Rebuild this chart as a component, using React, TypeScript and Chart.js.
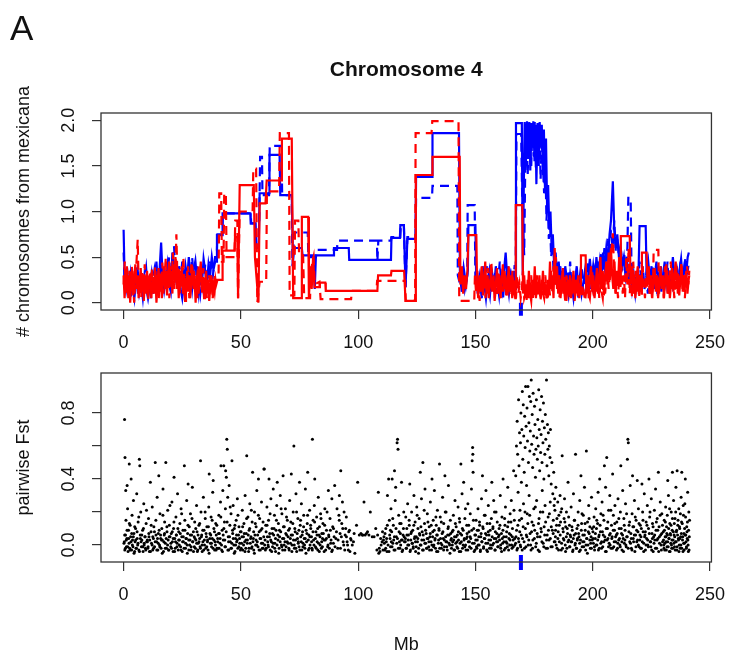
import { useEffect, useRef } from "react";
import { Chart, registerables } from "chart.js";
Chart.register(...registerables);

type Pt = [number, number];

const FONT = "'Liberation Sans', Arial, Helvetica, sans-serif";
const TITLE = "Chromosome 4";
const PANEL_LETTER = "A";
const TOP_Y_TITLE = "# chromosomes from mexicana";
const BOTTOM_Y_TITLE = "pairwise Fst";
const X_TITLE = "Mb";
const X_TICKS = [0, 50, 100, 150, 200, 250];
const TOP_Y_TICKS = [0, 0.5, 1, 1.5, 2];
const TOP_Y_LABELS = ["0.0", "0.5", "1.0", "1.5", "2.0"];
const BOTTOM_Y_TICKS = [0, 0.2, 0.4, 0.6, 0.8];
const BOTTOM_Y_LABELS = ["0.0", "", "0.4", "", "0.8"];
const GENE_MB = 169.4;
const TOP_GENE_SPAN = [0, -0.142];
const BOTTOM_GENE_SPAN = [-0.06, -0.152];

// top panel: mexicana ancestry (blue and red populations, solid and dashed)
const blueSolid: Pt[] = [
  [0,0.8],[0.4,0.3],[1.1,0.15],[1.8,0.28],[2.4,0.1],[3.1,0.32],[3.9,0.18],[4.6,0.05],[5.2,0.22],[6.0,0.36],[6.7,0.12],[7.5,0.25],[8.2,0.08],[8.9,0.3],[9.7,0.15],[10.4,0.05],[11.2,0.2],[11.9,0.32],[12.6,0.1],[13.3,0.26],[14.0,0.45],[14.6,0.18],[15.3,0.35],[16.0,0.66],[16.6,0.3],[17.3,0.14],[18.0,0.28],[18.7,0.42],[19.4,0.2],[20.1,0.12],[20.8,0.55],[21.5,0.3],[22.2,0.46],[22.9,0.2],[23.6,0.36],[24.3,0.15],[25.0,0.05],[25.7,0.22],[26.4,0.4],[27.1,0.26],[27.8,0.5],[28.5,0.3],[29.2,0.15],[29.9,0.36],[30.6,0.46],[31.3,0.25],[32.0,0.1],[32.7,0.32],[33.4,0.2],[34.1,0.48],[34.8,0.35],[35.5,0.2],[36.2,0.42],[36.9,0.3],[37.6,0.5],[38.3,0.36],[39.0,0.45],
  [39.6,0.45],[39.8,0.74],[42.0,0.74],[42.2,0.98],[54.0,0.98],[54.2,0.87],[56.3,0.87],[56.6,0.6],[57.6,0.6],[58.0,1.2],[62.0,1.2],[62.2,1.62],[66.5,1.62],[66.8,1.18],[71.7,1.18],[72.2,0.45],[72.8,0.6],[76.0,0.6],[76.3,0.52],[81.0,0.52],[81.5,0.15],[82.0,0.52],[89.5,0.52],[89.7,0.6],[96.0,0.6],[96.2,0.47],[114.0,0.47],[114.2,0.71],[117.8,0.71],[118.0,0.85],[119.5,0.85],[120.2,0.17],[121.0,0.7],[124.5,0.7],[124.7,1.38],[131.5,1.38],[131.7,1.86],[143.0,1.86],[143.4,0.3],
  [144.2,0.12],[145.0,0.38],[146.0,0.2],[146.8,0.35],[147.0,0.85],[150.0,0.85],[150.3,0.3],[151.0,0.1],[151.7,0.28],[152.4,0.15],[153.1,0.4],[153.8,0.2],[154.5,0.05],[155.2,0.25],[155.9,0.35],[156.6,0.12],[157.3,0.3],[158.0,0.18],[158.7,0.4],[159.4,0.22],[160.1,0.08],[160.8,0.3],[161.5,0.15],[162.2,0.35],[162.9,0.55],[163.6,0.25],[164.3,0.1],[165.0,0.3],[165.7,0.2],[166.4,0.35],[167.0,0.15],
  [167.3,1.97],[169.8,1.97],[170.2,0.3],[170.6,1.2],[171.0,1.98],[171.5,1.5],[172.0,1.99],[172.5,1.6],[173.0,1.98],[173.4,1.45],[173.8,1.97],[174.3,1.7],[174.7,1.99],[175.2,1.55],[175.6,1.95],[176.0,1.3],[176.5,1.97],[177.0,1.5],[177.4,1.98],[177.9,1.7],[178.3,1.95],[178.8,1.4],[179.2,1.9],[179.7,1.2],[180.1,1.8],[180.6,1.0],[181.0,1.29],[181.5,0.8],[182.0,1.0],[182.5,0.6],[183.0,0.75],[183.6,0.4],[184.2,0.55],[184.8,0.3],
  [185.5,0.45],[186.2,0.2],[186.9,0.35],[187.6,0.12],[188.3,0.4],[189.0,0.25],[189.7,0.1],[190.4,0.3],[191.1,0.18],[191.8,0.05],[192.5,0.25],[193.2,0.4],[193.9,0.15],[194.6,0.3],[195.3,0.1],[196.0,0.22],[196.7,0.35],[197.4,0.12],[198.1,0.3],[198.8,0.48],[199.5,0.25],[200.2,0.4],[200.9,0.2],[201.6,0.5],[202.3,0.3],[203.0,0.45],[203.7,0.25],[204.4,0.55],[205.1,0.4],[205.8,0.6],[206.5,0.45],[207.2,0.75],[207.8,0.9],[208.6,1.33],[209.2,0.8],[209.8,0.6],[210.5,0.75],[211.2,0.5],[211.9,0.62],[212.6,0.4],[213.3,0.5],[214.0,0.3],[214.7,0.45],[215.4,0.2],[216.1,0.35],[216.8,0.15],[217.5,0.3],[218.2,0.1],[218.9,0.25],[219.6,0.4],[220.0,0.84],[222.6,0.84],[223.0,0.3],[223.7,0.45],[224.4,0.25],[225.1,0.4],[225.8,0.15],[226.5,0.3],[227.2,0.45],[227.9,0.2],[228.6,0.35],[229.3,0.12],[230.0,0.3],[230.7,0.45],[231.4,0.2],[232.1,0.35],[232.8,0.1],[233.5,0.3],[234.2,0.5],[234.9,0.25],[235.6,0.4],[236.3,0.15],[237.0,0.35],[237.7,0.48],[238.4,0.25],[239.1,0.4],[239.8,0.3],[240.5,0.5],[241.0,0.55]
];

const blueDashed: Pt[] = [
  [0,0.55],[0.5,0.2],[1.2,0.35],[1.9,0.1],[2.6,0.25],[3.3,0.05],[4.0,0.3],[4.7,0.15],[5.4,0.4],[6.1,0.1],[6.8,0.3],[7.5,0.2],[8.2,0.05],[8.9,0.25],[9.6,0.38],[10.3,0.12],[11.0,0.3],[11.7,0.05],[12.4,0.22],[13.1,0.35],[13.8,0.15],[14.5,0.3],[15.2,0.1],[15.9,0.45],[16.6,0.25],[17.3,0.4],[18.0,0.15],[18.7,0.3],[19.4,0.5],[20.1,0.2],[20.8,0.35],[21.5,0.62],[22.2,0.3],[22.9,0.15],[23.6,0.4],[24.3,0.25],[25.0,0.45],[25.7,0.2],[26.4,0.3],[27.1,0.12],[27.8,0.35],[28.5,0.2],[29.2,0.5],[29.9,0.3],[30.6,0.15],[31.3,0.4],[32.0,0.25],[32.7,0.1],[33.4,0.3],[34.1,0.2],[34.8,0.42],[35.5,0.15],[36.2,0.3],[36.9,0.45],[37.6,0.2],[38.3,0.35],[39.0,0.5],
  [39.7,0.5],[40.0,0.75],[42.0,0.75],[42.3,0.98],[54.2,0.98],[54.4,0.87],[57.8,0.87],[58.2,1.6],[59.0,1.6],[59.2,1.18],[62.0,1.18],[62.3,1.72],[67.3,1.72],[67.6,1.18],[71.7,1.18],[72.0,0.4],[72.8,0.77],[78.5,0.77],[78.8,0.5],[82.0,0.5],[82.3,0.58],[91.0,0.58],[91.2,0.68],[108.0,0.68],[108.2,0.45],[108.6,0.68],[114.0,0.68],[114.2,0.72],[118.0,0.72],[118.2,0.85],[119.5,0.85],[120.2,0.17],[121.0,0.72],[124.5,0.72],[124.7,1.15],[131.5,1.15],[131.7,1.28],[142.3,1.28],[142.5,0.3],[143.5,0.2],[144.5,0.4],[145.5,0.15],[146.5,0.3],[146.7,1.07],[149.7,1.07],[150.0,0.2],
  [150.6,0.35],[151.3,0.1],[152.0,0.25],[152.7,0.05],[153.4,0.3],[154.1,0.15],[154.8,0.4],[155.5,0.2],[156.2,0.08],[156.9,0.3],[157.6,0.15],[158.3,0.35],[159.0,0.1],[159.7,0.25],[160.4,0.45],[161.1,0.2],[161.8,0.05],[162.5,0.3],[163.2,0.18],[163.9,0.4],[164.6,0.12],[165.3,0.3],[166.0,0.2],[166.7,0.4],
  [167.2,0.4],[167.5,1.85],[169.5,1.85],[170.0,1.07],[170.8,0.52],[171.3,1.6],[171.8,1.9],[172.3,1.4],[172.8,1.95],[173.3,1.75],[173.8,1.5],[174.3,1.9],[174.8,1.6],[175.3,1.98],[175.8,1.45],[176.3,1.85],[176.8,1.6],[177.3,1.9],[177.8,1.35],[178.3,1.8],[178.8,1.5],[179.3,1.2],[179.8,1.6],[180.3,0.9],[180.8,1.15],[181.3,0.7],[181.8,0.9],[182.3,0.5],[182.8,0.65],[183.3,0.35],[183.8,0.5],[184.3,0.2],[184.8,0.4],
  [185.5,0.2],[186.2,0.4],[186.9,0.15],[187.6,0.3],[188.3,0.05],[189.0,0.35],[189.7,0.2],[190.4,0.45],[191.1,0.1],[191.8,0.3],[192.5,0.15],[193.2,0.35],[193.9,0.05],[194.6,0.25],[195.3,0.4],[196.0,0.12],[196.7,0.3],[197.4,0.2],[198.1,0.45],[198.8,0.15],[199.5,0.3],[200.2,0.1],[200.9,0.35],[201.6,0.25],[202.3,0.45],[203.0,0.2],[203.6,0.55],[204.3,0.35],[205.0,0.6],[205.7,0.4],[206.4,0.7],[207.1,0.5],[207.8,0.8],[208.5,0.6],[209.2,0.9],[209.9,0.55],[210.6,0.7],[211.3,0.45],[212.0,0.6],[212.7,0.35],[213.4,0.55],[214.1,0.3],[214.8,0.6],[215.2,1.15],[216.2,1.15],[216.5,0.5],[217.2,0.3],[217.9,0.15],[218.6,0.35],[219.3,0.2],[220.0,0.45],[220.7,0.25],[221.4,0.4],[222.1,0.15],[222.8,0.3],[223.5,0.1],[224.2,0.35],[224.9,0.2],[225.6,0.4],[226.3,0.15],[227.0,0.3],[227.7,0.05],[228.4,0.25],[229.1,0.4],[229.8,0.15],[230.5,0.3],[231.2,0.2],[231.9,0.45],[232.6,0.1],[233.3,0.3],[234.0,0.2],[234.7,0.4],[235.4,0.15],[236.1,0.35],[236.8,0.25],[237.5,0.45],[238.2,0.2],[238.9,0.35],[239.6,0.5],[240.3,0.3],[241.0,0.45]
];

const redSolid: Pt[] = [
  [0,0.3],[0.4,0.05],[0.9,0.25],[1.4,0.4],[1.8,0.1],[2.3,0.3],[2.8,0.0],[3.2,0.2],[3.7,0.35],[4.1,0.08],[4.6,0.28],[5.0,0.42],[5.5,0.15],[5.9,0.3],[6.4,0.05],[6.8,0.22],[7.3,0.38],[7.7,0.12],[8.2,0.3],[8.6,0.02],[9.1,0.25],[9.5,0.15],[10.0,0.35],[10.4,0.08],[10.9,0.2],[11.3,0.32],[11.8,0.05],[12.2,0.18],[12.7,0.28],[13.1,0.1],[13.6,0.3],[14.0,0.0],[14.5,0.22],[14.9,0.38],[15.4,0.12],[15.8,0.3],[16.3,0.05],[16.7,0.25],[17.2,0.4],[17.6,0.15],[18.1,0.35],[18.5,0.08],[19.0,0.28],[19.4,0.45],[19.9,0.2],[20.3,0.35],[20.8,0.1],[21.2,0.42],[21.7,0.25],[22.1,0.5],[22.6,0.15],[23.0,0.38],[23.5,0.05],[23.9,0.3],[24.4,0.18],[24.8,0.4],[25.3,0.1],[25.7,0.28],[26.2,0.02],[26.6,0.2],[27.1,0.35],[27.5,0.12],[28.0,0.3],[28.4,0.05],[28.9,0.25],[29.3,0.4],[29.8,0.15],[30.2,0.3],[30.7,0.0],[31.1,0.22],[31.6,0.36],[32.0,0.1],[32.5,0.3],[32.9,0.45],[33.4,0.15],[33.8,0.28],[34.3,0.05],[34.7,0.2],[35.2,0.35],[35.6,0.1],[36.1,0.25],[36.5,0.02],[37.0,0.18],[37.4,0.3],[37.9,0.08],[38.3,0.2],[38.8,0.12],[39.2,0.25],
  [39.5,0.2],[40.0,0.25],[42.0,0.25],[42.2,0.57],[47.3,0.57],[47.5,0.72],[48.5,0.72],[48.8,0.05],[49.5,1.29],[55.5,1.29],[56.0,0.5],[57.5,0.0],[58.0,1.09],[60.5,1.09],[61.0,1.34],[67.2,1.34],[67.5,1.8],[71.7,1.8],[72.3,0.05],[75.7,0.05],[76.0,0.94],[78.7,0.94],[79.0,0.05],[79.6,0.4],[80.2,0.15],[80.8,0.5],[81.4,0.17],[83.5,0.17],[83.7,0.22],[86.0,0.22],[86.2,0.13],[108.2,0.13],[108.5,0.3],[114.0,0.3],[114.2,0.35],[119.6,0.35],[120.2,0.02],[124.3,0.02],[124.6,1.4],[131.5,1.4],[131.7,1.6],[143.3,1.6],[143.6,0.2],
  [144.2,0.4],[144.8,0.1],[145.4,0.3],[146.0,0.15],[146.6,0.35],[147.0,0.74],[150.4,0.74],[150.7,0.2],[151.2,0.05],[151.7,0.3],[152.2,0.12],[152.7,0.4],[153.2,0.08],[153.7,0.25],[154.2,0.45],[154.7,0.1],[155.2,0.3],[155.7,0.05],[156.2,0.2],[156.7,0.35],[157.2,0.12],[157.7,0.28],[158.2,0.02],[158.7,0.2],[159.2,0.38],[159.7,0.1],[160.2,0.3],[160.7,0.05],[161.2,0.25],[161.7,0.42],[162.2,0.15],[162.7,0.3],[163.2,0.08],[163.7,0.22],[164.2,0.4],[164.7,0.12],[165.2,0.3],[165.7,0.05],[166.2,0.2],[166.7,0.1],[167.0,0.05],
  [167.2,1.07],[170.0,1.07],[170.3,0.1],[170.8,0.3],[171.3,0.05],[171.8,0.2],[172.3,0.08],[172.8,0.35],[173.3,0.1],[173.8,0.02],[174.3,0.25],[174.8,0.1],[175.3,0.4],[175.8,0.05],[176.3,0.2],[176.8,0.1],[177.3,0.3],[177.8,0.05],[178.3,0.15],[178.8,0.35],[179.3,0.08],[179.8,0.2],[180.3,0.05],[180.8,0.25],[181.3,0.1],[181.8,0.45],[182.3,0.15],[182.8,0.3],[183.3,0.05],[183.8,0.6],[184.3,0.2],[184.8,0.4],
  [185.3,0.1],[185.8,0.3],[186.3,0.05],[186.8,0.22],[187.3,0.38],[187.8,0.1],[188.3,0.28],[188.8,0.02],[189.3,0.2],[189.8,0.12],[190.3,0.3],[190.8,0.05],[191.3,0.18],[191.8,0.35],[192.3,0.08],[192.8,0.25],[193.3,0.1],[193.8,0.3],[194.3,0.05],[194.8,0.2],[195.0,0.52],[197.0,0.52],[197.3,0.1],[197.8,0.3],[198.3,0.05],[198.8,0.25],[199.3,0.4],[199.8,0.12],[200.3,0.3],[200.8,0.05],[201.3,0.2],[201.8,0.38],[202.3,0.1],[202.8,0.28],[203.3,0.5],[203.8,0.15],[204.3,0.35],[204.8,0.08],[205.3,0.3],[205.8,0.45],[206.3,0.2],[206.8,0.55],[207.3,0.25],[207.8,0.6],[208.3,0.3],[208.8,0.15],[209.3,0.45],[209.8,0.1],[210.3,0.35],[210.8,0.2],[211.3,0.5],[211.8,0.25],[212.0,0.73],[215.8,0.73],[216.2,0.2],[216.7,0.4],[217.2,0.1],[217.7,0.3],[218.2,0.05],[218.7,0.25],[219.2,0.4],[219.7,0.15],[220.2,0.3],[220.8,0.1],[221.0,0.55],[223.0,0.55],[223.4,0.2],[223.9,0.4],[224.4,0.1],[224.9,0.3],[225.4,0.05],[225.9,0.25],[226.4,0.38],[226.9,0.12],[227.4,0.3],[227.9,0.05],[228.4,0.22],[228.9,0.4],[229.4,0.15],[229.9,0.3],[230.4,0.05],[230.9,0.25],[231.4,0.42],[231.9,0.1],[232.4,0.3],[232.9,0.05],[233.4,0.2],[233.9,0.38],[234.4,0.12],[234.9,0.3],[235.4,0.45],[235.9,0.15],[236.4,0.32],[236.9,0.08],[237.4,0.25],[237.9,0.4],[238.4,0.12],[238.9,0.3],[239.4,0.2],[239.9,0.35],[240.4,0.1],[240.9,0.25],[241.2,0.3]
];

const redDashed: Pt[] = [
  [0,0.2],[0.5,0.45],[1.0,0.1],[1.5,0.3],[2.0,0.05],[2.5,0.35],[3.0,0.15],[3.5,0.4],[4.0,0.2],[4.5,0.0],[5.0,0.25],[5.5,0.45],[6.0,0.69],[6.5,0.1],[7.0,0.3],[7.5,0.05],[8.0,0.35],[8.5,0.18],[9.0,0.42],[9.5,0.1],[10.0,0.28],[10.5,0.02],[11.0,0.3],[11.5,0.15],[12.0,0.38],[12.5,0.08],[13.0,0.25],[13.5,0.4],[14.0,0.12],[14.5,0.3],[15.0,0.05],[15.5,0.35],[16.0,0.2],[16.5,0.44],[17.0,0.1],[17.5,0.3],[18.0,0.5],[18.5,0.2],[19.0,0.35],[19.5,0.05],[20.0,0.4],[20.5,0.25],[21.0,0.55],[21.5,0.15],[22.0,0.3],[22.5,0.75],[23.0,0.2],[23.5,0.4],[24.0,0.1],[24.5,0.35],[25.0,0.2],[25.5,0.5],[26.0,0.08],[26.5,0.3],[27.0,0.15],[27.5,0.4],[28.0,0.05],[28.5,0.28],[29.0,0.45],[29.5,0.2],[30.0,0.35],[30.5,0.1],[31.0,0.3],[31.5,0.05],[32.0,0.4],[32.5,0.2],[33.0,0.3],[33.5,0.1],[34.0,0.38],[34.5,0.15],[35.0,0.25],[35.5,0.05],[36.0,0.2],[36.5,0.3],[37.0,0.1],[37.5,0.22],[38.0,0.05],[38.5,0.18],[39.0,0.3],
  [39.5,0.3],[40.5,0.3],[40.8,1.2],[41.6,1.2],[41.9,0.45],[42.6,0.45],[42.9,1.2],[43.6,1.2],[43.9,0.5],[47.3,0.5],[47.6,0.9],[48.5,0.9],[48.8,0.05],[49.5,1.0],[55.0,1.0],[55.3,1.47],[56.5,1.47],[57.0,0.0],[58.0,0.23],[60.8,0.23],[61.1,1.22],[66.3,1.22],[66.6,1.86],[70.5,1.86],[70.8,0.08],[72.8,0.08],[73.1,0.9],[74.5,0.9],[74.8,0.55],[76.5,0.55],[77.0,0.05],[79.5,0.05],[79.8,0.35],[81.0,0.5],[81.5,0.2],[83.5,0.23],[84.0,0.04],[97.0,0.04],[97.3,0.13],[107.8,0.13],[108.1,0.24],[120.0,0.24],[120.3,0.02],[124.3,0.02],[124.5,1.86],[131.3,1.86],[131.6,1.99],[142.8,1.99],[143.1,0.02],[149.5,0.02],
  [149.8,0.3],[150.3,0.1],[150.8,0.35],[151.3,0.15],[151.8,0.02],[152.3,0.25],[152.8,0.4],[153.3,0.1],[153.8,0.3],[154.3,0.05],[154.8,0.2],[155.3,0.38],[155.8,0.12],[156.3,0.28],[156.8,0.45],[157.3,0.15],[157.8,0.3],[158.3,0.05],[158.8,0.25],[159.3,0.1],[159.8,0.35],[160.3,0.2],[160.8,0.05],[161.3,0.3],[161.8,0.12],[162.3,0.38],[162.8,0.2],[163.3,0.05],[163.8,0.3],[164.3,0.15],[164.8,0.25],[165.3,0.08],[165.8,0.35],[166.3,0.1],[166.8,0.25],[167.3,0.05],[167.8,0.3],[168.3,0.1],[168.8,0.2],[169.3,0.05],[169.8,0.15],[170.3,0.35],[170.8,0.05],[171.3,0.1],[171.8,0.02],[172.3,0.25],[172.8,0.05],[173.3,0.15],[173.8,0.3],[174.3,0.02],[174.8,0.1],[175.3,0.2],[175.8,0.05],[176.3,0.3],[176.8,0.08],[177.3,0.15],[177.8,0.02],[178.3,0.25],[178.8,0.1],[179.3,0.05],[179.8,0.3],[180.3,0.12],[180.8,0.02],[181.3,0.2],[181.8,0.08],[182.3,0.35],[182.8,0.12],[183.3,0.4],[183.8,0.2],[184.3,0.5],[184.8,0.15],
  [185.3,0.3],[185.8,0.05],[186.3,0.25],[186.8,0.1],[187.3,0.35],[187.8,0.15],[188.3,0.02],[188.8,0.3],[189.3,0.1],[189.8,0.25],[190.3,0.05],[190.8,0.2],[191.3,0.1],[191.8,0.3],[192.3,0.02],[192.8,0.15],[193.3,0.25],[193.8,0.05],[194.3,0.12],[194.8,0.3],[195.3,0.05],[195.8,0.2],[196.3,0.1],[196.8,0.02],[197.3,0.15],[197.8,0.3],[198.3,0.1],[198.8,0.05],[199.3,0.2],[199.8,0.35],[200.3,0.1],[200.8,0.05],[201.3,0.25],[201.8,0.1],[202.3,0.3],[202.8,0.05],[203.3,0.2],[203.8,0.12],[204.3,0.05],[204.8,0.3],[205.3,0.1],[205.8,0.25],[206.3,0.4],[206.8,0.15],[207.3,0.3],[207.8,0.5],[208.6,0.76],[209.2,0.3],[209.8,0.1],[210.3,0.25],[210.8,0.05],[211.3,0.3],[211.8,0.15],[212.3,0.4],[212.8,0.1],[213.3,0.3],[213.8,0.05],[214.3,0.5],[214.8,0.2],[215.3,0.6],[215.8,0.1],[216.3,0.3],[216.8,0.05],[217.3,0.45],[217.8,0.15],[218.3,0.35],[218.8,0.1],[219.3,0.25],[219.8,0.05],[220.3,0.3],[220.8,0.12],[221.3,0.4],[221.8,0.2],[222.3,0.05],[222.8,0.3],[223.3,0.15],[223.8,0.35],[224.3,0.1],[224.8,0.25],[225.3,0.05],[225.8,0.3],[226.0,0.58],[228.0,0.58],[228.3,0.1],[228.8,0.35],[229.3,0.15],[229.8,0.3],[230.3,0.05],[230.8,0.4],[231.3,0.2],[231.8,0.35],[232.3,0.1],[232.8,0.3],[233.3,0.45],[233.8,0.15],[234.3,0.3],[234.8,0.05],[235.3,0.25],[235.8,0.4],[236.3,0.1],[236.8,0.3],[237.3,0.2],[237.8,0.45],[238.3,0.15],[238.8,0.3],[239.3,0.05],[239.8,0.25],[240.3,0.4],[240.8,0.2],[241.2,0.35]
];

// bottom panel: pairwise Fst per window
const fst0to50: Pt[] = [
  [0.4,0.76],[0.6,0.53],[2.4,0.49],[6.7,0.52],[6.9,0.48],[1.5,0.36],[0.9,0.33],[3.2,0.4],
  [0.3,0.02],[0.5,-0.03],[0.8,0.06],[1.0,0.15],[1.2,-0.01],[1.4,0.04],[1.7,0.22],[1.9,-0.04],[2.1,0.09],[2.3,0.01],[2.6,-0.02],[2.8,0.12],[3.0,0.05],[3.4,-0.03],[3.6,0.18],[3.8,0.03],[4.0,-0.01],[4.2,0.27],[4.4,0.07],[4.7,-0.04],[4.9,0.02],[5.1,0.1],[5.3,-0.02],[5.6,0.31],[5.8,0.04],[6.0,0.0],[6.2,0.14],[6.5,-0.03],[7.1,0.06],[7.3,0.2],[7.6,-0.01],[7.8,0.03],[8.1,0.09],[8.3,-0.04],[8.6,0.25],[8.8,0.01],[9.1,0.05],[9.3,-0.02],[9.6,0.13],[9.8,0.02],
  [13.5,0.5],[18.0,0.5],[15.0,0.42],[11.4,0.38],
  [10.1,0.03],[10.3,-0.02],[10.6,0.16],[10.8,0.05],[11.0,-0.04],[11.7,0.08],[11.9,0.01],[12.2,0.23],[12.4,-0.03],[12.7,0.04],[12.9,0.11],[13.2,-0.01],[13.8,0.06],[14.1,0.02],[14.3,0.29],[14.6,-0.03],[14.8,0.07],[15.3,0.0],[15.5,0.19],[15.8,0.04],[16.0,-0.02],[16.3,0.1],[16.5,0.03],[16.8,0.34],[17.0,-0.04],[17.3,0.06],[17.5,0.14],[17.8,0.01],[18.3,-0.02],[18.5,0.08],[18.8,0.21],[19.0,0.03],[19.3,-0.03],[19.5,0.12],[19.8,0.05],
  [25.9,0.48],[21.5,0.41],[27.5,0.37],
  [20.1,-0.01],[20.3,0.07],[20.6,0.26],[20.8,0.02],[21.1,-0.04],[21.3,0.1],[21.8,0.04],[22.0,-0.02],[22.3,0.17],[22.5,0.06],[22.8,0.01],[23.0,0.31],[23.3,-0.03],[23.5,0.08],[23.8,0.03],[24.0,0.13],[24.3,-0.01],[24.5,0.22],[24.8,0.05],[25.0,-0.04],[25.3,0.09],[25.5,0.02],[26.1,0.15],[26.4,-0.02],[26.6,0.04],[26.9,0.27],[27.1,0.0],[27.3,0.07],[27.8,-0.03],[28.0,0.11],[28.3,0.03],[28.5,0.19],[28.8,-0.01],[29.0,0.06],[29.3,0.35],[29.5,0.02],[29.8,-0.04],
  [32.8,0.51],[36.5,0.43],[38.2,0.39],
  [30.1,0.05],[30.3,0.14],[30.6,-0.02],[30.8,0.03],[31.1,0.24],[31.3,0.08],[31.6,-0.03],[31.8,0.01],[32.1,0.12],[32.4,0.04],[32.6,-0.01],[33.0,0.2],[33.3,0.06],[33.5,-0.04],[33.8,0.02],[34.0,0.29],[34.3,0.09],[34.5,0.0],[34.8,0.16],[35.0,-0.02],[35.3,0.05],[35.5,0.11],[35.8,0.03],[36.0,-0.03],[36.3,0.23],[36.8,0.07],[37.0,0.01],[37.3,0.17],[37.5,-0.01],[37.8,0.04],[38.0,0.32],[38.5,0.1],[38.8,-0.03],[39.0,0.02],[39.3,0.13],[39.5,0.06],[39.8,-0.02],
  [44.0,0.64],[44.2,0.58],[41.5,0.48],[42.7,0.48],[46.2,0.51],[43.5,0.45],[43.8,0.41],[45.0,0.36],
  [40.1,0.04],[40.3,-0.02],[40.6,0.18],[40.8,0.07],[41.1,0.01],[41.3,0.26],[41.8,-0.03],[42.0,0.09],[42.3,0.33],[42.5,0.03],[43.0,0.14],[43.2,-0.01],[43.4,0.22],[44.4,0.29],[44.6,0.05],[44.8,-0.03],[45.3,0.12],[45.5,0.02],[45.8,0.19],[46.0,-0.02],[46.5,0.07],[46.7,0.24],[47.0,0.0],[47.2,0.1],[47.5,-0.04],[47.7,0.04],[48.0,0.15],[48.2,0.02],[48.5,0.28],[48.7,-0.02],[49.0,0.06],[49.2,0.11],[49.5,0.01],[49.8,-0.03]
];

const fst50to100: Pt[] = [
  [52.5,0.54],[55.0,0.44],[57.5,0.4],[59.8,0.46],
  [50.1,0.08],[50.3,0.01],[50.6,0.21],[50.8,-0.03],[51.1,0.05],[51.3,0.13],[51.6,0.02],[51.8,0.3],[52.1,-0.02],[52.3,0.07],[52.8,0.03],[53.0,0.17],[53.3,-0.04],[53.5,0.09],[53.8,0.25],[54.0,0.01],[54.3,0.05],[54.5,-0.02],[54.8,0.14],[55.3,0.04],[55.5,-0.03],[55.8,0.2],[56.0,0.06],[56.3,0.0],[56.5,0.11],[56.8,0.33],[57.0,0.02],[57.3,-0.01],[57.8,0.08],[58.0,0.16],[58.3,-0.03],[58.5,0.04],[58.8,0.26],[59.0,0.1],[59.3,0.01],[59.5,-0.02],
  [60.0,0.46],[62.0,0.4],[65.5,0.38],[68.0,0.42],
  [60.3,0.03],[60.6,0.12],[60.8,-0.02],[61.1,0.23],[61.3,0.05],[61.6,0.0],[61.8,0.15],[62.3,0.07],[62.5,-0.03],[62.8,0.28],[63.0,0.02],[63.3,0.1],[63.5,-0.01],[63.8,0.34],[64.0,0.06],[64.3,0.18],[64.5,0.01],[64.8,-0.04],[65.0,0.09],[65.3,0.24],[65.8,0.03],[66.0,0.13],[66.3,-0.02],[66.5,0.05],[66.8,0.3],[67.0,0.08],[67.3,0.0],[67.5,0.19],[67.8,-0.03],[68.3,0.04],[68.5,0.11],[68.8,0.02],[69.0,0.22],[69.3,-0.01],[69.5,0.06],[69.8,0.15],
  [72.6,0.6],[71.5,0.43],[75.0,0.38],[78.5,0.44],
  [70.1,0.01],[70.3,0.09],[70.6,-0.03],[70.8,0.27],[71.1,0.04],[71.3,0.14],[71.8,0.0],[72.0,0.06],[72.3,0.2],[72.8,-0.02],[73.0,0.1],[73.3,0.03],[73.5,0.31],[73.8,-0.04],[74.0,0.07],[74.3,0.16],[74.5,0.02],[74.8,-0.01],[75.3,0.12],[75.5,0.05],[75.8,0.25],[76.0,-0.03],[76.3,0.08],[76.5,0.01],[76.8,0.18],[77.0,0.04],[77.3,-0.02],[77.5,0.34],[77.8,0.09],[78.0,0.02],[78.3,0.13],[78.8,-0.03],[79.0,0.06],[79.3,0.21],[79.5,0.0],[79.8,0.1],
  [80.5,0.64],[81.5,0.4],
  [80.1,0.05],[80.3,-0.02],[80.8,0.15],[81.0,0.03],[81.3,0.24],[81.8,-0.01],[82.0,0.08],[82.3,0.17],[82.5,0.02],[82.8,-0.03],[83.0,0.29],[83.3,0.06],[83.5,0.11],[83.8,0.0],[84.0,0.19],[84.3,-0.02],[84.5,0.07],[84.8,0.04],[85.0,0.13],[85.5,-0.04],[85.8,0.22],[86.0,0.03],[86.5,0.09],[87.0,-0.01],[87.3,0.33],[87.5,0.05],[88.0,0.16],[88.3,0.01],[88.8,0.28],[89.0,-0.03],[89.5,0.1],
  [90.0,0.36],[90.5,0.04],[91.0,0.22],[91.3,-0.02],[91.8,0.18],[92.0,0.3],[92.3,0.07],[92.6,0.45],[93.0,0.13],[93.3,0.26],[93.6,0.02],[94.0,0.2],[94.3,-0.03],[94.7,0.1],[95.0,0.05],[95.5,0.0],[96.0,0.08],[96.5,-0.04],[97.0,0.03],[98.0,0.02],[98.6,-0.05],[99.3,0.12],[99.8,0.38]
];

const fst100to150: Pt[] = [
  [100.5,0.06],[101.2,0.07],[101.8,0.06],[102.5,0.26],[103.0,0.06],[104.0,0.08],[105.2,0.2],[106.0,0.05],[107.5,0.1],[108.3,0.06],[108.6,0.32],[109.0,-0.02],[109.3,-0.04],[109.6,0.04],[110.2,0.02],[110.6,-0.03],
  [116.8,0.64],[116.6,0.62],[117.0,0.58],[115.5,0.45],[114.5,0.4],[116.0,0.35],[113.0,0.4],[112.5,0.3],[118.5,0.38],
  [111.0,0.05],[111.3,-0.03],[111.8,0.1],[112.0,0.02],[112.3,-0.04],[113.3,0.15],[113.6,0.04],[113.8,-0.01],[114.0,0.22],[114.3,0.08],[114.8,0.01],[115.0,0.12],[115.3,-0.03],[115.8,0.27],[116.3,0.05],[117.3,0.18],[117.6,0.02],[117.8,-0.02],[118.0,0.07],[118.3,0.13],[118.8,0.03],[119.0,-0.03],[119.3,0.1],[119.6,0.05],
  [127.6,0.5],[126.5,0.44],[122.0,0.37],
  [120.1,0.02],[120.3,0.17],[120.6,-0.02],[120.8,0.06],[121.1,0.25],[121.3,0.03],[121.6,0.0],[121.8,0.12],[122.3,-0.03],[122.5,0.07],[122.8,0.2],[123.0,0.01],[123.3,0.09],[123.5,-0.01],[123.8,0.3],[124.0,0.04],[124.3,0.14],[124.5,-0.04],[124.8,0.05],[125.0,0.23],[125.3,0.02],[125.5,0.1],[125.8,-0.02],[126.0,0.16],[126.3,0.06],[126.8,0.0],[127.0,0.28],[127.3,0.08],[127.8,-0.03],[128.0,0.03],[128.3,0.13],[128.5,0.34],[128.8,0.01],[129.0,0.07],[129.3,-0.02],[129.5,0.19],[129.8,0.04],
  [134.7,0.49],[131.5,0.4],[137.0,0.42],
  [130.1,-0.01],[130.3,0.11],[130.6,0.05],[130.8,0.26],[131.1,0.02],[131.3,-0.03],[131.8,0.08],[132.0,0.15],[132.3,0.0],[132.5,0.33],[132.8,0.04],[133.0,-0.02],[133.3,0.12],[133.5,0.06],[133.8,0.21],[134.0,-0.04],[134.3,0.03],[134.5,0.09],[135.0,0.17],[135.3,0.01],[135.5,-0.02],[135.8,0.07],[136.0,0.29],[136.3,0.04],[136.5,0.13],[136.8,-0.01],[137.3,0.05],[137.5,0.2],[137.8,0.02],[138.0,-0.03],[138.3,0.1],[138.5,0.36],[138.8,0.06],[139.0,0.0],[139.3,0.15],[139.5,0.03],[139.8,-0.02],
  [143.8,0.49],[148.8,0.59],[148.9,0.55],[148.6,0.51],[149.0,0.44],[145.0,0.38],
  [140.1,0.08],[140.3,0.02],[140.6,0.18],[140.8,-0.03],[141.1,0.05],[141.3,0.27],[141.6,0.01],[141.8,0.11],[142.1,-0.01],[142.3,0.06],[142.6,0.23],[142.8,0.03],[143.1,-0.04],[143.3,0.14],[143.6,0.07],[144.0,0.02],[144.3,0.31],[144.5,-0.02],[144.8,0.09],[145.3,0.04],[145.5,0.16],[145.8,0.0],[146.0,-0.03],[146.3,0.12],[146.5,0.05],[146.8,0.25],[147.0,0.02],[147.3,0.08],[147.5,-0.01],[147.8,0.19],[148.0,0.04],[148.3,0.34],[149.3,0.1],[149.5,0.01],[149.8,-0.03]
];

const fst150to200: Pt[] = [
  [153.0,0.42],[157.0,0.38],
  [150.1,0.06],[150.3,0.15],[150.6,-0.02],[150.8,0.03],[151.1,0.22],[151.3,0.09],[151.6,0.0],[151.8,0.12],[152.1,-0.04],[152.3,0.05],[152.6,0.28],[152.8,0.02],[153.3,0.1],[153.5,-0.01],[153.8,0.18],[154.0,0.04],[154.3,0.07],[154.5,0.33],[154.8,-0.03],[155.0,0.13],[155.3,0.01],[155.5,0.24],[155.8,0.06],[156.0,-0.02],[156.3,0.09],[156.5,0.03],[156.8,0.16],[157.3,0.0],[157.5,0.11],[157.8,0.27],[158.0,0.04],[158.3,-0.03],[158.5,0.08],[158.8,0.2],[159.0,0.02],[159.3,0.14],[159.5,-0.01],[159.8,0.05],
  [160.1,0.1],[160.3,0.03],[160.6,0.3],[160.8,-0.02],[161.1,0.07],[161.3,0.17],[161.6,0.01],[161.8,0.4],[162.1,0.05],[162.3,-0.03],[162.6,0.12],[162.8,0.23],[163.1,0.02],[163.3,0.08],[163.6,-0.01],[163.8,0.35],[164.1,0.14],[164.3,0.04],[164.6,0.0],[164.8,0.19],[165.1,0.06],[165.3,0.27],[165.6,-0.02],[165.8,0.1],[166.1,0.03],[166.3,0.45],[166.6,0.15],[166.8,0.0],
  [167.2,0.42],[167.5,0.6],[167.8,0.75],[168.0,0.55],[168.2,0.32],[168.4,0.88],[168.6,0.48],[168.8,0.68],[169.0,0.21],[169.2,0.62],[169.4,0.8],[169.6,0.38],[169.8,0.7],[170.0,0.93],[170.2,0.52],[170.4,0.85],[170.6,0.66],[170.8,0.44],[171.0,0.78],[171.2,0.59],[171.4,0.96],[171.6,0.72],[171.8,0.36],[172.0,0.83],[172.2,0.63],[172.4,0.96],[172.6,0.5],[172.8,0.74],[173.0,0.9],[173.2,0.57],[173.4,0.69],[173.6,0.87],[173.8,1.0],[174.0,0.61],[174.2,0.79],[174.4,0.47],[174.6,0.92],[174.8,0.66],[175.0,0.55],[175.2,0.84],[175.4,0.73],[175.6,0.41],[175.8,0.58],[176.0,0.88],[176.2,0.65],[176.4,0.52],[176.6,0.76],[176.8,0.6],[177.0,0.94],[177.2,0.7],[177.4,0.45],[177.6,0.82],[177.8,0.56],[178.0,0.67],[178.2,0.9],[178.4,0.5],[178.6,0.75],[178.8,0.62],[179.0,0.86],[179.2,0.4],[179.4,0.71],[179.6,0.55],[179.8,0.79],[180.0,0.64],[180.3,1.0],[180.5,0.48],[180.7,0.73],[180.9,0.58],[181.1,0.68],[181.3,0.42],[181.5,0.6],[181.8,0.53],[182.0,0.7],[182.3,0.37],[182.6,0.5],[183.0,0.31],[183.4,0.44],[183.8,0.28],
  [167.3,0.05],[167.7,-0.03],[168.1,0.12],[168.5,0.02],[168.9,0.08],[169.3,-0.01],[169.7,0.16],[170.1,0.04],[170.5,0.25],[170.9,-0.02],[171.3,0.1],[171.7,0.06],[172.1,0.19],[172.5,0.0],[172.9,0.3],[173.3,0.07],[173.7,-0.03],[174.1,0.14],[174.5,0.03],[174.9,0.22],[175.3,0.09],[175.7,-0.01],[176.1,0.27],[176.5,0.05],[176.9,0.13],[177.3,-0.04],[177.7,0.2],[178.1,0.08],[178.5,0.33],[178.9,0.01],[179.3,0.11],[179.7,0.24],[180.1,-0.02],[180.6,0.06],[181.0,0.17],[181.4,0.03],[181.9,0.26],[182.2,-0.01],[182.8,0.09],[183.2,0.15],[183.6,0.02],[183.9,0.21],
  [187.0,0.54],
  [184.1,0.05],[184.3,0.35],[184.6,0.12],[184.8,-0.02],[185.1,0.26],[185.3,0.08],[185.6,0.18],[185.8,0.02],[186.1,0.3],[186.3,0.14],[186.6,-0.03],[186.8,0.22],[187.3,0.1],[187.5,0.04],[187.8,0.16],[188.0,0.28],[188.3,0.0],[188.5,0.11],[188.8,0.2],[189.0,-0.02],[189.3,0.07],[189.5,0.38],[189.8,0.03],
  [192.7,0.55],[197.3,0.57],[195.0,0.42],
  [190.1,0.12],[190.3,-0.01],[190.6,0.05],[190.8,0.23],[191.1,0.02],[191.3,0.09],[191.6,-0.03],[191.8,0.31],[192.1,0.06],[192.3,0.15],[192.6,0.01],[193.0,-0.02],[193.3,0.1],[193.5,0.04],[193.8,0.2],[194.0,0.07],[194.3,-0.04],[194.5,0.27],[194.8,0.03],[195.3,0.13],[195.5,-0.01],[195.8,0.06],[196.0,0.18],[196.3,0.02],[196.5,0.35],[196.8,0.09],[197.0,-0.03],[197.5,0.04],[197.8,0.14],[198.0,0.0],[198.3,0.24],[198.5,0.07],[198.8,0.11],[199.0,-0.02],[199.3,0.05],[199.5,0.29],[199.8,0.03]
];

const fst200to241: Pt[] = [
  [206.0,0.53],[205.0,0.48],[203.0,0.4],[208.5,0.43],
  [200.1,0.08],[200.3,0.01],[200.6,0.17],[200.8,-0.03],[201.1,0.04],[201.3,0.22],[201.6,0.1],[201.8,0.0],[202.1,0.13],[202.3,0.32],[202.6,0.05],[202.8,-0.02],[203.3,0.08],[203.5,0.19],[203.8,0.02],[204.0,0.26],[204.3,-0.01],[204.5,0.06],[204.8,0.15],[205.3,0.03],[205.5,0.35],[205.8,-0.04],[206.3,0.1],[206.5,0.04],[206.8,0.21],[207.0,0.01],[207.3,0.3],[207.5,0.07],[207.8,-0.02],[208.0,0.12],[208.3,0.05],[208.8,0.18],[209.0,-0.01],[209.3,0.09],[209.5,0.24],[209.8,0.02],
  [215.0,0.64],[215.2,0.62],[214.8,0.52],[212.0,0.48],[217.0,0.42],[219.0,0.39],
  [210.1,0.06],[210.3,0.14],[210.6,-0.02],[210.8,0.28],[211.1,0.03],[211.3,0.1],[211.6,0.0],[211.8,0.2],[212.3,0.07],[212.5,-0.03],[212.8,0.33],[213.0,0.04],[213.3,0.16],[213.5,0.01],[213.8,0.09],[214.0,0.25],[214.3,-0.01],[214.5,0.05],[215.5,0.12],[215.8,0.02],[216.0,0.36],[216.3,0.07],[216.5,-0.02],[216.8,0.19],[217.3,0.04],[217.5,0.11],[217.8,0.27],[218.0,-0.04],[218.3,0.06],[218.5,0.15],[218.8,0.02],[219.3,0.08],[219.5,0.22],[219.8,-0.01],
  [228.0,0.44],[224.0,0.4],[221.0,0.37],
  [220.1,0.03],[220.3,0.12],[220.6,0.05],[220.8,-0.02],[221.3,0.2],[221.5,0.08],[221.8,0.01],[222.0,0.31],[222.3,0.06],[222.5,-0.03],[222.8,0.14],[223.0,0.04],[223.3,0.24],[223.5,0.0],[223.8,0.1],[224.3,0.17],[224.5,0.02],[224.8,-0.01],[225.0,0.28],[225.3,0.07],[225.5,0.13],[225.8,-0.04],[226.0,0.05],[226.3,0.21],[226.5,0.03],[226.8,0.34],[227.0,0.09],[227.3,-0.02],[227.5,0.16],[227.8,0.04],[228.3,0.11],[228.5,0.01],[228.8,0.26],[229.0,0.06],[229.3,-0.03],[229.5,0.19],[229.8,0.02],
  [234.0,0.44],[236.0,0.45],[238.0,0.44],[232.0,0.39],[239.5,0.4],
  [230.1,0.08],[230.3,0.0],[230.5,0.15],[230.7,-0.03],[230.9,0.05],[231.1,0.23],[231.3,0.02],[231.5,0.11],[231.7,-0.01],[231.9,0.06],[232.3,0.3],[232.5,0.04],[232.7,-0.04],[232.9,0.13],[233.1,0.07],[233.3,0.01],[233.5,0.2],[233.7,-0.02],[233.9,0.09],[234.3,0.03],[234.5,0.27],[234.7,0.06],[234.9,-0.01],[235.1,0.16],[235.3,0.02],[235.5,0.35],[235.7,0.08],[235.9,-0.03],[236.3,0.12],[236.5,0.04],[236.7,0.22],[236.9,0.0],[237.1,0.1],[237.3,-0.02],[237.5,0.05],[237.7,0.29],[237.9,0.14],[238.3,0.03],[238.5,-0.04],[238.7,0.18],[238.9,0.07],[239.1,0.01],[239.3,0.25],[239.7,0.06],[239.9,-0.02],[240.1,0.11],[240.3,0.04],[240.5,0.32],[240.7,0.0],[240.9,0.09],[241.1,-0.03],[241.3,0.15]
];

// additional windows in the dense low-Fst band
const bandA: Pt[] = [
  [0.15,0.01],[0.45,0.06],[0.75,-0.02],[1.15,0.03],[1.45,0.09],[1.75,-0.01],[2.15,0.04],[2.45,0.13],[2.75,-0.03],[3.15,0.02],[3.45,0.07],[3.75,0.0],[4.15,0.05],[4.45,-0.05],[4.75,0.11],[5.15,0.03],[5.45,-0.02],[5.75,0.08],[6.15,0.01],[6.45,0.17],[6.75,-0.04],[7.15,0.04],[7.45,0.02],[7.75,0.06],[8.15,-0.01],[8.45,0.1],[8.75,0.0],[9.15,0.05],[9.45,-0.03],[9.75,0.21],
  [10.15,0.02],[10.45,-0.01],[10.75,0.07],[11.15,0.03],[11.45,-0.04],[11.75,0.12],[12.15,0.0],[12.45,0.05],[12.75,-0.02],[13.15,0.08],[13.45,0.02],[13.75,0.15],[14.15,-0.03],[14.45,0.04],[14.75,0.01],[15.15,0.09],[15.45,-0.01],[15.75,0.06],[16.15,0.03],[16.45,-0.05],[16.75,0.18],[17.15,0.02],[17.45,0.07],[17.75,-0.02],[18.15,0.04],[18.45,0.11],[18.75,0.0],[19.15,-0.03],[19.45,0.05],[19.75,0.24],
  [20.15,0.01],[20.45,-0.02],[20.75,0.08],[21.15,0.04],[21.45,0.14],[21.75,-0.04],[22.15,0.02],[22.45,0.06],[22.75,-0.01],[23.15,0.1],[23.45,0.03],[23.75,0.0],[24.15,0.07],[24.45,-0.03],[24.75,0.19],[25.15,0.02],[25.45,0.05],[25.75,-0.02],[26.15,0.09],[26.45,0.01],[26.75,0.04],[27.15,-0.05],[27.45,0.12],[27.75,0.03],[28.15,0.0],[28.45,0.06],[28.75,-0.03],[29.15,0.16],[29.45,0.02],[29.75,0.08],
  [30.15,-0.01],[30.45,0.04],[30.75,0.1],[31.15,0.01],[31.45,-0.04],[31.75,0.06],[32.15,0.02],[32.45,0.13],[32.75,-0.02],[33.15,0.05],[33.45,0.0],[33.75,0.09],[34.15,-0.03],[34.45,0.03],[34.75,0.2],[35.15,0.07],[35.45,-0.01],[35.75,0.02],[36.15,0.11],[36.45,-0.05],[36.75,0.04],[37.15,0.06],[37.45,0.01],[37.75,0.15],[38.15,-0.02],[38.45,0.03],[38.75,0.08],[39.15,0.0],[39.45,-0.03],[39.75,0.12],
  [40.15,0.02],[40.45,0.07],[40.75,-0.02],[41.15,0.04],[41.45,0.17],[41.75,0.0],[42.15,-0.04],[42.45,0.06],[42.75,0.1],[43.15,0.03],[43.45,-0.01],[43.75,0.08],[44.15,0.14],[44.45,-0.03],[44.75,0.02],[45.15,0.05],[45.45,0.23],[45.75,-0.02],[46.15,0.01],[46.45,0.09],[46.75,0.04],[47.15,-0.05],[47.45,0.12],[47.75,0.0],[48.15,0.06],[48.45,0.03],[48.75,0.18],[49.15,-0.01],[49.45,0.04],[49.75,0.08]
];

const bandB: Pt[] = [
  [50.15,-0.02],[50.45,0.05],[50.75,0.11],[51.15,0.0],[51.45,0.07],[51.75,-0.04],[52.15,0.03],[52.45,0.16],[52.75,0.01],[53.15,0.06],[53.45,-0.02],[53.75,0.1],[54.15,0.04],[54.45,0.21],[54.75,-0.01],[55.15,0.02],[55.45,0.08],[55.75,-0.05],[56.15,0.13],[56.45,0.03],[56.75,0.0],[57.15,0.06],[57.45,0.18],[57.75,-0.03],[58.15,0.04],[58.45,0.09],[58.75,0.01],[59.15,-0.02],[59.45,0.14],[59.75,0.05],
  [60.15,0.0],[60.45,-0.03],[60.75,0.08],[61.15,0.12],[61.45,0.02],[61.75,-0.01],[62.15,0.05],[62.45,0.19],[62.75,0.03],[63.15,-0.04],[63.45,0.07],[63.75,0.01],[64.15,0.1],[64.45,-0.02],[64.75,0.04],[65.15,0.15],[65.45,0.0],[65.75,0.06],[66.15,-0.05],[66.45,0.09],[66.75,0.02],[67.15,0.22],[67.45,-0.01],[67.75,0.04],[68.15,0.11],[68.45,0.0],[68.75,-0.03],[69.15,0.07],[69.45,0.17],[69.75,0.02],
  [70.15,0.05],[70.45,-0.02],[70.75,0.1],[71.15,0.01],[71.45,0.06],[71.75,-0.04],[72.15,0.13],[72.45,0.03],[72.75,0.0],[73.15,0.08],[73.45,-0.02],[73.75,0.2],[74.15,0.04],[74.45,0.01],[74.75,0.09],[75.15,-0.03],[75.45,0.15],[75.75,0.02],[76.15,0.06],[76.45,-0.01],[76.75,0.11],[77.15,0.0],[77.45,0.04],[77.75,-0.05],[78.15,0.07],[78.45,0.18],[78.75,0.03],[79.15,-0.02],[79.45,0.05],[79.75,0.12],
  [80.15,0.02],[80.45,-0.03],[80.75,0.08],[81.15,0.0],[81.45,0.14],[81.75,0.04],[82.15,-0.02],[82.45,0.06],[82.75,0.1],[83.15,0.01],[83.45,-0.04],[83.75,0.05],[84.15,0.16],[84.45,0.02],[84.75,-0.01],[85.15,0.07],[85.45,0.03],[85.75,0.12],[86.15,-0.03],[86.45,0.04],[86.75,0.2],[87.15,0.0],[87.45,0.06],[87.75,-0.02],[88.15,0.09],[88.45,0.03],[88.75,-0.04],[89.15,0.11],[89.45,0.01],[89.75,0.05],
  [90.15,-0.01],[90.75,0.08],[91.45,0.03],[91.95,0.15],[92.45,-0.02],[92.85,0.05],[93.45,0.1],[93.85,0.0],[94.45,0.06],[94.95,0.17],[95.3,0.02],[95.8,-0.03],[96.3,0.09],[96.8,0.04],[97.5,0.0],[98.3,0.07]
];

const bandC: Pt[] = [
  [102.0,0.06],[103.5,0.07],[104.6,0.06],[106.8,0.05],[108.0,-0.03],[108.8,-0.05],[109.8,0.0],[110.4,0.08],[110.8,0.03],
  [111.15,0.01],[111.45,0.07],[111.75,-0.02],[112.15,0.04],[112.45,0.12],[112.75,0.0],[113.15,-0.04],[113.45,0.06],[113.75,0.09],[114.15,0.02],[114.45,-0.01],[114.75,0.16],[115.15,0.03],[115.45,0.05],[115.75,-0.03],[116.15,0.1],[116.45,0.01],[116.75,0.04],[117.15,-0.02],[117.45,0.08],[117.75,0.13],[118.15,0.0],[118.45,0.03],[118.75,-0.04],[119.15,0.06],[119.45,0.2],[119.75,0.02],
  [120.15,0.04],[120.45,-0.02],[120.75,0.1],[121.15,0.0],[121.45,0.06],[121.75,0.15],[122.15,-0.04],[122.45,0.03],[122.75,0.08],[123.15,0.01],[123.45,-0.02],[123.75,0.12],[124.15,0.05],[124.45,0.02],[124.75,-0.01],[125.15,0.18],[125.45,0.04],[125.75,-0.05],[126.15,0.07],[126.45,0.0],[126.75,0.11],[127.15,0.03],[127.45,-0.03],[127.75,0.06],[128.15,0.21],[128.45,0.01],[128.75,0.09],[129.15,-0.02],[129.45,0.04],[129.75,0.14],
  [130.15,0.02],[130.45,-0.03],[130.75,0.07],[131.15,0.12],[131.45,0.0],[131.75,0.05],[132.15,-0.01],[132.45,0.09],[132.75,0.03],[133.15,0.17],[133.45,-0.04],[133.75,0.06],[134.15,0.01],[134.45,0.1],[134.75,-0.02],[135.15,0.04],[135.45,0.14],[135.75,0.0],[136.15,0.08],[136.45,-0.03],[136.75,0.03],[137.15,0.2],[137.45,0.02],[137.75,-0.01],[138.15,0.06],[138.45,0.11],[138.75,0.01],[139.15,-0.05],[139.45,0.07],[139.75,0.04],
  [140.15,0.0],[140.45,0.09],[140.75,0.03],[141.15,-0.03],[141.45,0.13],[141.75,0.05],[142.15,0.02],[142.45,-0.02],[142.75,0.08],[143.15,0.16],[143.45,0.01],[143.75,-0.04],[144.15,0.06],[144.45,0.1],[144.75,0.0],[145.15,0.03],[145.45,-0.01],[145.75,0.22],[146.15,0.04],[146.45,0.07],[146.75,-0.03],[147.15,0.12],[147.45,0.02],[147.75,0.05],[148.15,-0.02],[148.45,0.09],[148.75,0.01],[149.15,0.15],[149.45,-0.04],[149.75,0.06]
];

const bandD: Pt[] = [
  [150.15,0.03],[150.45,-0.01],[150.75,0.09],[151.15,0.0],[151.45,0.05],[151.75,0.14],[152.15,-0.03],[152.45,0.07],[152.75,0.02],[153.15,0.11],[153.45,-0.02],[153.75,0.04],[154.15,0.18],[154.45,0.01],[154.75,0.06],[155.15,-0.04],[155.45,0.08],[155.75,0.03],[156.15,0.13],[156.45,0.0],[156.75,-0.02],[157.15,0.05],[157.45,0.1],[157.75,0.01],[158.15,0.2],[158.45,-0.03],[158.75,0.04],[159.15,0.07],[159.45,0.02],[159.75,-0.01],
  [160.15,0.06],[160.45,0.12],[160.75,0.0],[161.15,-0.04],[161.45,0.04],[161.75,0.09],[162.15,0.02],[162.45,0.16],[162.75,-0.02],[163.15,0.05],[163.45,0.01],[163.75,0.11],[164.15,-0.03],[164.45,0.07],[164.75,0.03],[165.15,0.14],[165.45,0.0],[165.75,0.05],[166.15,-0.01],[166.45,0.21],[166.75,0.04],
  [167.15,0.01],[167.55,0.09],[167.95,-0.02],[168.35,0.04],[168.75,0.15],[169.15,0.0],[169.55,0.06],[169.95,-0.03],[170.35,0.11],[170.75,0.02],[171.15,0.2],[171.55,-0.01],[171.95,0.05],[172.35,0.13],[172.75,0.03],[173.15,0.18],[173.55,0.0],[173.95,0.08],[174.35,-0.02],[174.75,0.12],[175.15,0.04],[175.55,0.23],[175.95,0.01],[176.35,0.07],[176.75,-0.03],[177.15,0.16],[177.55,0.05],[177.95,0.1],[178.35,0.02],[178.75,0.2],[179.15,-0.01],[179.55,0.06],[179.95,0.14],[180.35,0.03],[180.75,-0.02],[181.15,0.09],[181.55,0.19],[181.95,0.04],[182.35,0.11],[182.75,-0.01],[183.15,0.07],[183.55,0.24],[183.95,0.02],
  [184.15,0.09],[184.45,0.0],[184.75,0.16],[185.15,0.04],[185.45,-0.03],[185.75,0.12],[186.15,0.06],[186.45,0.2],[186.75,0.01],[187.15,-0.02],[187.45,0.08],[187.75,0.03],[188.15,0.14],[188.45,-0.04],[188.75,0.05],[189.15,0.1],[189.45,0.02],[189.75,0.17],
  [190.15,-0.01],[190.45,0.06],[190.75,0.02],[191.15,0.11],[191.45,-0.04],[191.75,0.04],[192.15,0.15],[192.45,0.0],[192.75,0.07],[193.15,-0.02],[193.45,0.03],[193.75,0.12],[194.15,0.05],[194.45,0.01],[194.75,-0.03],[195.15,0.09],[195.45,0.19],[195.75,0.02],[196.15,-0.01],[196.45,0.06],[196.75,0.13],[197.15,0.0],[197.45,0.04],[197.75,-0.05],[198.15,0.08],[198.45,0.16],[198.75,0.03],[199.15,0.01],[199.45,-0.02],[199.75,0.1]
];

const bandE: Pt[] = [
  [200.15,0.04],[200.45,0.11],[200.75,-0.01],[201.15,0.07],[201.45,0.0],[201.75,0.15],[202.15,0.03],[202.45,-0.03],[202.75,0.06],[203.15,0.12],[203.45,0.01],[203.75,-0.02],[204.15,0.08],[204.45,0.18],[204.75,0.02],[205.15,0.05],[205.45,-0.04],[205.75,0.1],[206.15,0.03],[206.45,0.14],[206.75,-0.01],[207.15,0.06],[207.45,0.0],[207.75,0.21],[208.15,0.04],[208.45,-0.02],[208.75,0.09],[209.15,0.02],[209.45,0.13],[209.75,0.05],
  [210.15,-0.03],[210.45,0.07],[210.75,0.01],[211.15,0.16],[211.45,0.04],[211.75,-0.01],[212.15,0.1],[212.45,0.02],[212.75,0.06],[213.15,-0.04],[213.45,0.12],[213.75,0.03],[214.15,0.0],[214.45,0.19],[214.75,0.05],[215.15,-0.02],[215.45,0.08],[215.75,0.14],[216.15,0.01],[216.45,0.04],[216.75,-0.03],[217.15,0.11],[217.45,0.02],[217.75,0.06],[218.15,0.17],[218.45,-0.01],[218.75,0.09],[219.15,0.03],[219.45,0.0],[219.75,0.13],
  [220.15,0.06],[220.45,-0.02],[220.75,0.1],[221.15,0.02],[221.45,0.15],[221.75,-0.04],[222.15,0.05],[222.45,0.08],[222.75,0.0],[223.15,0.12],[223.45,0.03],[223.75,-0.01],[224.15,0.07],[224.45,0.2],[224.75,0.02],[225.15,-0.03],[225.45,0.04],[225.75,0.11],[226.15,0.01],[226.45,0.06],[226.75,-0.02],[227.15,0.14],[227.45,0.03],[227.75,0.09],[228.15,-0.04],[228.45,0.05],[228.75,0.18],[229.15,0.0],[229.45,0.07],[229.75,0.12],
  [230.2,0.03],[230.4,-0.02],[230.6,0.09],[230.8,0.01],[231.0,0.14],[231.2,0.05],[231.4,-0.03],[231.6,0.07],[231.8,0.18],[232.0,0.02],[232.2,-0.01],[232.4,0.1],[232.6,0.04],[232.8,0.22],[233.0,-0.04],[233.2,0.06],[233.4,0.12],[233.6,0.0],[233.8,0.03],[234.0,0.16],[234.2,-0.02],[234.4,0.08],[234.6,0.01],[234.8,0.13],[235.0,0.05],[235.2,-0.03],[235.4,0.2],[235.6,0.02],[235.8,0.09],[236.0,-0.01],[236.2,0.06],[236.4,0.15],[236.6,0.03],[236.8,-0.04],[237.0,0.11],[237.2,0.04],[237.4,0.19],[237.6,0.0],[237.8,0.07],[238.0,-0.02],[238.2,0.13],[238.4,0.05],[238.6,0.24],[238.8,0.01],[239.0,-0.03],[239.2,0.1],[239.4,0.06],[239.6,0.17],[239.8,0.02],[240.0,-0.01],[240.2,0.08],[240.4,0.14],[240.6,0.03],[240.8,-0.04],[241.0,0.2],[241.2,0.05]
];

const toXY = (pts: Pt[]) => pts.map(([x, y]) => ({ x, y }));

function framePlugin(tickVals: number[], labels: string[], extra?: (ctx: CanvasRenderingContext2D, a: any) => void) {
  return {
    id: "frame",
    afterDraw(chart: any) {
      const { ctx, chartArea: a, scales } = chart;
      ctx.save();
      ctx.strokeStyle = "#333";
      ctx.lineWidth = 1.3;
      ctx.strokeRect(a.left, a.top, a.right - a.left, a.bottom - a.top);
      ctx.fillStyle = "#111";
      ctx.font = `18px ${FONT}`;
      ctx.textAlign = "center";
      ctx.textBaseline = "middle";
      tickVals.forEach((v, i) => {
        if (!labels[i]) return;
        const y = scales.y.getPixelForValue(v);
        ctx.save();
        ctx.translate(a.left - 32, y);
        ctx.rotate(-Math.PI / 2);
        ctx.fillText(labels[i], 0, 0);
        ctx.restore();
      });
      if (extra) extra(ctx, a);
      ctx.restore();
    },
  };
}

function xScale(height: number, withTitle: boolean) {
  return {
    type: "linear",
    min: -9.64,
    max: 250.64,
    afterBuildTicks: (s: any) => {
      s.ticks = X_TICKS.map((v) => ({ value: v }));
    },
    afterFit: (s: any) => {
      s.height = height;
    },
    border: { display: false },
    grid: { drawOnChartArea: false, drawTicks: true, tickLength: 9, color: "#333", tickColor: "#333", lineWidth: 1.2 },
    ticks: { color: "#111", font: { size: 18, family: FONT }, padding: 13, maxRotation: 0, minRotation: 0, autoSkip: false, callback: (v: any) => String(v) },
    title: withTitle
      ? { display: true, text: X_TITLE, color: "#111", font: { size: 18, family: FONT }, padding: { top: 0, bottom: 5 } }
      : { display: false },
  };
}

function yScale(min: number, max: number, ticks: number[], title: string) {
  return {
    type: "linear",
    min,
    max,
    afterBuildTicks: (s: any) => {
      s.ticks = ticks.map((v) => ({ value: v }));
    },
    afterFit: (s: any) => {
      s.width = 101;
    },
    border: { display: false },
    grid: { drawOnChartArea: false, drawTicks: true, tickLength: 9, color: "#333", tickColor: "#333", lineWidth: 1.2 },
    ticks: { display: false },
    title: { display: true, text: title, color: "#111", font: { size: 18, family: FONT }, padding: { top: 13, bottom: 0 } },
  };
}

const lineDs = (label: string, pts: Pt[], color: string, dashed: boolean) => ({
  type: "line",
  label,
  data: toXY(pts),
  borderColor: color,
  backgroundColor: color,
  borderWidth: 2.2,
  borderDash: dashed ? [9, 6] : [],
  pointRadius: 0,
  tension: 0,
  fill: false,
  showLine: true,
});

export default function App() {
  const topRef = useRef<HTMLCanvasElement>(null);
  const botRef = useRef<HTMLCanvasElement>(null);

  useEffect(() => {
    Chart.defaults.font.family = FONT;
    const top = new Chart(topRef.current as HTMLCanvasElement, {
      type: "scatter",
      data: {
        datasets: [
          lineDs("red", redSolid, "#ff0000", false),
          lineDs("red dashed", redDashed, "#ff0000", true),
          lineDs("blue", blueSolid, "#0000ff", false),
          lineDs("blue dashed", blueDashed, "#0000ff", true),
          {
            type: "line",
            label: "gene",
            data: TOP_GENE_SPAN.map((y) => ({ x: GENE_MB, y })),
            borderColor: "#0000ff",
            borderWidth: 4,
            pointRadius: 0,
            clip: false,
          },
        ] as any,
      },
      options: {
        responsive: false,
        maintainAspectRatio: false,
        animation: false,
        events: [],
        layout: { padding: { left: 0, right: 16.5, top: 113, bottom: 0 } },
        plugins: { legend: { display: false }, title: { display: false }, tooltip: { enabled: false } },
        scales: {
          x: xScale(40, false),
          y: yScale(-0.08, 2.08, TOP_Y_TICKS, TOP_Y_TITLE),
        } as any,
      },
      plugins: [
        framePlugin(TOP_Y_TICKS, TOP_Y_LABELS, (ctx, a) => {
          ctx.fillStyle = "#111";
          ctx.font = `bold 21px ${FONT}`;
          ctx.textAlign = "center";
          ctx.textBaseline = "middle";
          ctx.fillText(TITLE, (a.left + a.right) / 2, 70);
          ctx.font = `35px ${FONT}`;
          ctx.textAlign = "left";
          ctx.textBaseline = "alphabetic";
          ctx.fillText(PANEL_LETTER, 10, 40);
        }),
      ] as any,
    });

    const fstAll = [...fst0to50, ...fst50to100, ...fst100to150, ...fst150to200, ...fst200to241, ...bandA, ...bandB, ...bandC, ...bandD, ...bandE];

    const bottom = new Chart(botRef.current as HTMLCanvasElement, {
      type: "scatter",
      data: {
        datasets: [
          {
            type: "scatter",
            label: "Fst",
            data: toXY(fstAll),
            backgroundColor: "#000",
            borderWidth: 0,
            pointRadius: 1.5,
            showLine: false,
          },
          {
            type: "line",
            label: "gene",
            data: BOTTOM_GENE_SPAN.map((y) => ({ x: GENE_MB, y })),
            borderColor: "#0000ff",
            borderWidth: 4,
            pointRadius: 0,
            clip: false,
          },
        ] as any,
      },
      options: {
        responsive: false,
        maintainAspectRatio: false,
        animation: false,
        events: [],
        layout: { padding: { left: 0, right: 16.5, top: 23, bottom: 0 } },
        plugins: { legend: { display: false }, title: { display: false }, tooltip: { enabled: false } },
        scales: {
          x: xScale(99, true),
          y: yScale(-0.103, 1.042, BOTTOM_Y_TICKS, BOTTOM_Y_TITLE),
        } as any,
      },
      plugins: [framePlugin(BOTTOM_Y_TICKS, BOTTOM_Y_LABELS)] as any,
    });

    return () => {
      top.destroy();
      bottom.destroy();
    };
  }, []);

  return (
    <div style={{ position: "fixed", left: 0, top: 0, width: 738, height: 661, background: "#fff" }}>
      <canvas ref={topRef} width={738} height={350} style={{ position: "absolute", left: 0, top: 0, width: 738, height: 350 }} />
      <canvas ref={botRef} width={738} height={311} style={{ position: "absolute", left: 0, top: 350, width: 738, height: 311 }} />
    </div>
  );
}
